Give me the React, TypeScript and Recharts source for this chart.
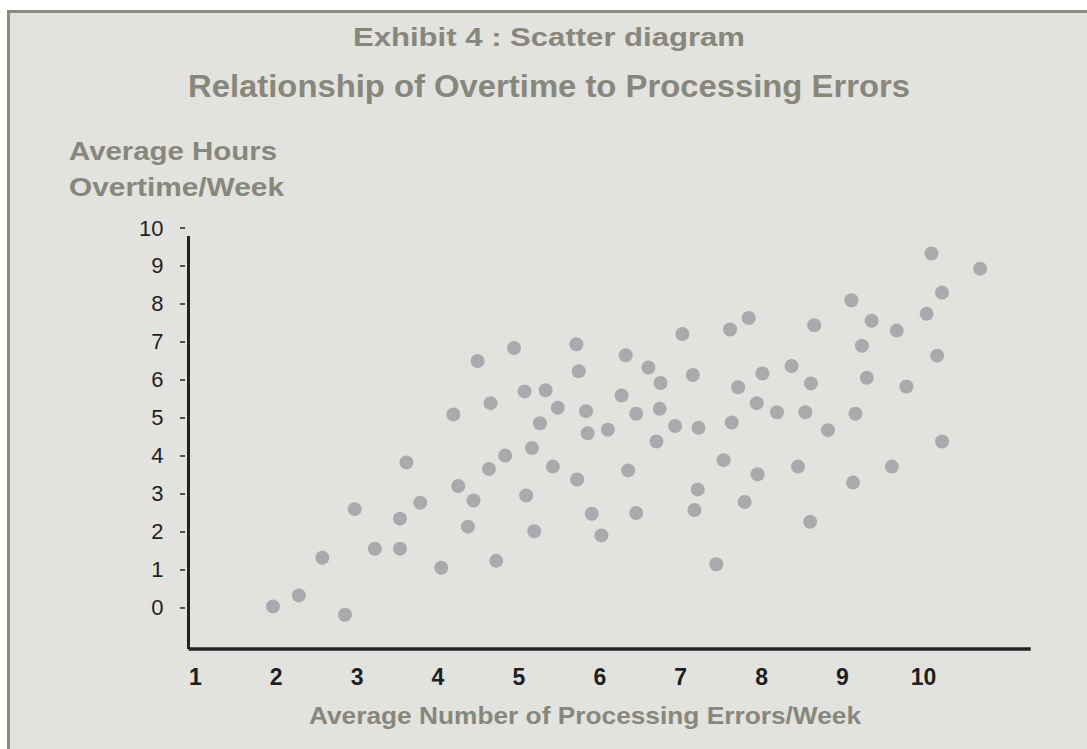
import React from "react";
import { ScatterChart, Scatter, XAxis, YAxis, ReferenceLine } from "recharts";

// average number of processing errors per week (x) and average overtime hours (y)
const errorsPerWeek = [
  1.96, 2.28, 2.85, 2.57, 2.97, 3.22, 3.53, 3.53, 3.78, 3.61,
  4.04, 4.19, 4.25, 4.37, 4.44, 4.49, 4.63, 4.65, 4.72, 4.83,
  4.94, 5.07, 5.09, 5.16, 5.19, 5.26, 5.33, 5.42, 5.48, 5.71,
  5.74, 5.72, 5.83, 5.85, 5.9, 6.02, 6.1, 6.27, 6.32, 6.35,
  6.45, 6.45, 6.6, 6.75, 6.74, 6.7, 6.93, 7.02, 7.15, 7.22,
  7.21, 7.17, 7.44, 7.53, 7.61, 7.63, 7.71, 7.79, 7.84, 7.94,
  7.95, 8.01, 8.19, 8.37, 8.45, 8.54, 8.6, 8.61, 8.65, 8.82,
  9.11, 9.16, 9.13, 9.24, 9.3, 9.36, 9.61, 9.67, 9.79, 10.04,
  10.1, 10.23, 10.17, 10.23, 10.7
];
const overtimeHours = [
  0.04, 0.33, -0.18, 1.32, 2.6, 1.56, 1.56, 2.35, 2.77, 3.83,
  1.06, 5.09, 3.21, 2.14, 2.83, 6.5, 3.66, 5.39, 1.24, 4.01,
  6.84, 5.7, 2.96, 4.21, 2.02, 4.86, 5.73, 3.72, 5.27, 6.94,
  6.23, 3.38, 5.18, 4.6, 2.48, 1.91, 4.69, 5.59, 6.65, 3.62,
  5.11, 2.5, 6.33, 5.92, 5.24, 4.38, 4.79, 7.21, 6.13, 4.74,
  3.12, 2.58, 1.15, 3.89, 7.33, 4.88, 5.81, 2.79, 7.63, 5.39,
  3.52, 6.17, 5.15, 6.37, 3.72, 5.15, 2.27, 5.91, 7.44, 4.68,
  8.1, 5.11, 3.3, 6.9, 6.06, 7.56, 3.72, 7.3, 5.83, 7.74,
  9.33, 8.3, 6.64, 4.38, 8.93
];
const xTicks = [1, 2, 3, 4, 5, 6, 7, 8, 9, 10];
const yTicks = [0, 1, 2, 3, 4, 5, 6, 7, 8, 9, 10];

const points = errorsPerWeek.map((x, i) => ({ x, y: overtimeHours[i] }));

const X_MIN = 0.916;
const X_MAX = 11.326;
const Y_MIN = -1.08;
const Y_MAX = 10;

const FONT = "'Liberation Sans', Arial, sans-serif";
const TITLE_COLOR = "#87877b";

const Dot = (props: any) => (
  <circle cx={props.cx} cy={props.cy} r={7} fill="#a9aaae" />
);

const XTick = (props: any) => (
  <text
    x={props.x}
    y={props.y + 36}
    textAnchor="middle"
    fontFamily={FONT}
    fontWeight="bold"
    fontSize={23}
    fill="#1f1f1f"
  >
    {props.payload.value}
  </text>
);

const YTick = (props: any) => (
  <g>
    <text
      x={props.x - 25}
      y={props.y}
      textAnchor="end"
      dominantBaseline="central"
      fontFamily={FONT}
      fontSize={22}
      fill="#1f1f1f"
    >
      {props.payload.value}
    </text>
    <line x1={props.x - 8.5} x2={props.x - 3.5} y1={props.y} y2={props.y} stroke="#222" strokeWidth={1.5} />
  </g>
);

export default function App() {
  return (
    <div style={{ position: "absolute", left: 0, top: 0, width: 1087, height: 749, background: "#fff", overflow: "hidden" }}>
      <div
        style={{
          position: "absolute",
          left: 7,
          top: 10,
          width: 1100,
          height: 760,
          background: "#e2e2de",
          borderTop: "3px solid #8b8b7f",
          borderLeft: "3px solid #8b8b7f"
        }}
      />
      <div style={{ position: "absolute", left: 0, top: 0 }}>
        <ScatterChart width={1087} height={749} margin={{ top: 228, right: 56.3, bottom: 60, left: 118.5 }}>
          <XAxis
            type="number"
            dataKey="x"
            domain={[X_MIN, X_MAX]}
            allowDataOverflow
            ticks={xTicks}
            interval={0}
            height={40}
            tickSize={0}
            tickMargin={0}
            tickLine={false}
            axisLine={{ stroke: "#222", strokeWidth: 3.5 }}
            tick={<XTick />}
          />
          <YAxis
            type="number"
            dataKey="y"
            domain={[Y_MIN, Y_MAX]}
            allowDataOverflow
            ticks={yTicks}
            interval={0}
            width={70}
            tickSize={0}
            tickMargin={0}
            tickLine={false}
            axisLine={false}
            tick={<YTick />}
          />
          <ReferenceLine
            segment={[{ x: X_MIN, y: Y_MIN }, { x: X_MIN, y: 9.79 }]}
            stroke="#222"
            strokeWidth={3}
            ifOverflow="visible"
          />
          <Scatter data={points} isAnimationActive={false} shape={<Dot />} />
        </ScatterChart>
      </div>
      <svg width={1087} height={749} style={{ position: "absolute", left: 0, top: 0, pointerEvents: "none" }}>
        <g fontFamily={FONT} fontWeight="bold" fill={TITLE_COLOR}>
          <text x={549} y={45.5} textAnchor="middle" fontSize={25.5} textLength={392} lengthAdjust="spacingAndGlyphs">
            Exhibit 4 : Scatter diagram
          </text>
          <text x={549} y={97} textAnchor="middle" fontSize={31.5} textLength={722} lengthAdjust="spacingAndGlyphs">
            Relationship of Overtime to Processing Errors
          </text>
          <text x={69} y={160} fontSize={26} textLength={208} lengthAdjust="spacingAndGlyphs">
            Average  Hours
          </text>
          <text x={69} y={196} fontSize={26} textLength={215} lengthAdjust="spacingAndGlyphs">
            Overtime/Week
          </text>
          <text x={585} y={724} textAnchor="middle" fontSize={24} textLength={552} lengthAdjust="spacingAndGlyphs">
            Average Number of Processing Errors/Week
          </text>
        </g>
      </svg>
    </div>
  );
}
